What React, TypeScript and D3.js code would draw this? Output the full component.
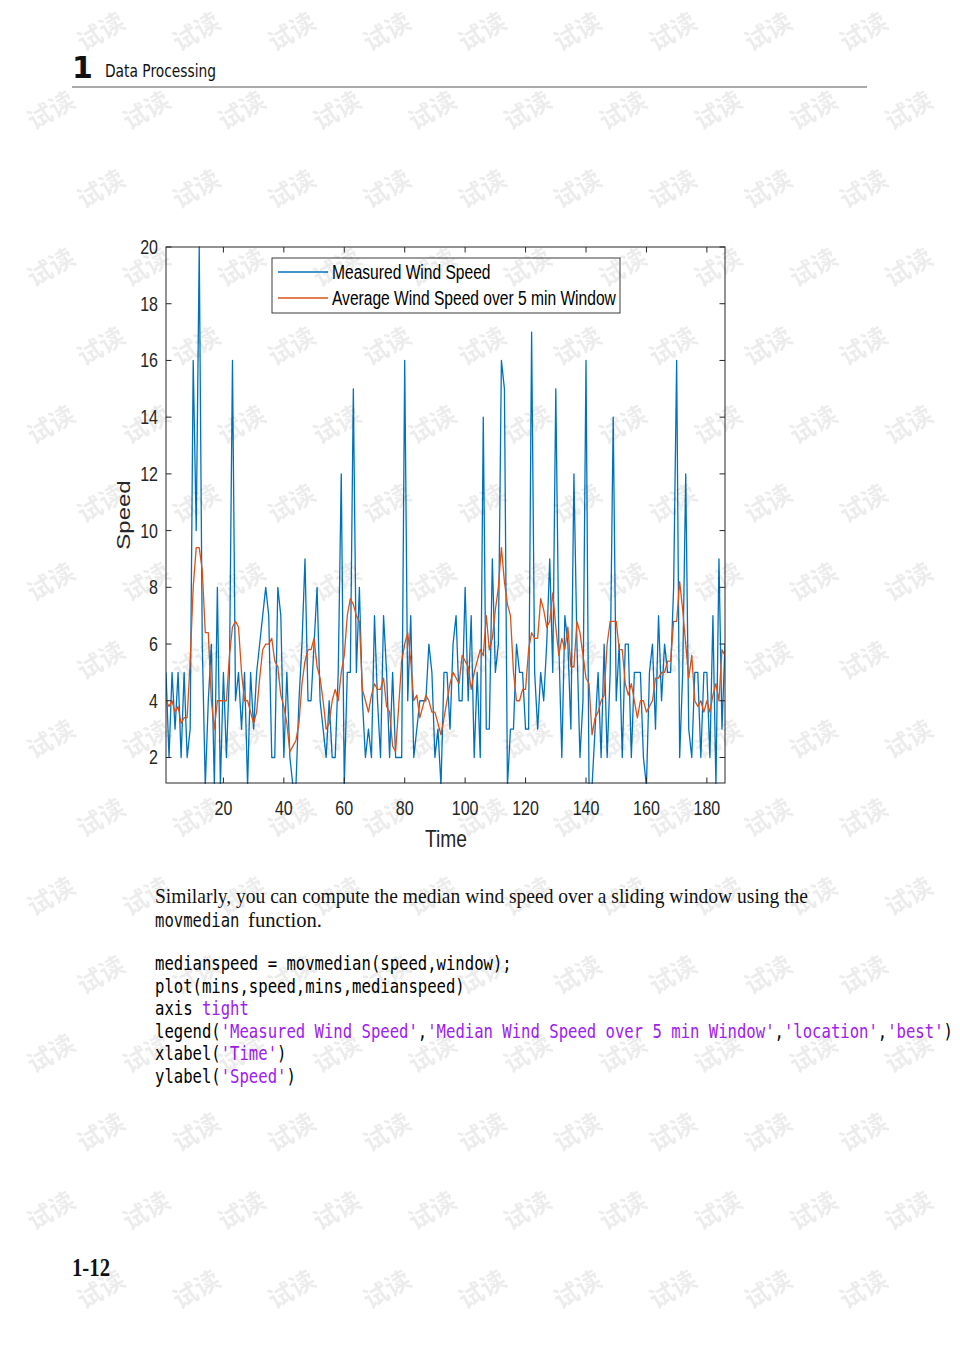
import { useMemo } from "react";
import * as d3 from "d3";

const PAGE_W = 960;
const PAGE_H = 1357;
const PLOT = { left: 166, right: 725, top: 247, bottom: 783 };

// measured wind speed, one value per minute
const SPEED = [
  5, 2, 5, 3, 5, 2, 5, 2, 3, 16, 10, 20, 6, 1, 4, 6, 1, 8, 1, 5,
  2, 5, 16, 4, 5, 3, 5, 1, 5, 3, 5, 6, 7, 8, 7, 2, 2, 8, 7, 2,
  5, 2, 1, 1, 4, 6, 9, 4, 4, 6, 8, 4, 3, 2, 4, 2, 2, 5, 12, 1,
  5, 5, 15, 5, 8, 4, 2, 3, 2, 7, 4, 2, 7, 5, 2, 5, 2, 2, 2, 16,
  4, 7, 2, 3, 4, 4, 4, 6, 5, 2, 3, 1, 5, 5, 3, 6, 7, 4, 4, 8,
  4, 7, 2, 5, 2, 14, 3, 3, 9, 5, 6, 16, 15, 1, 3, 3, 6, 5, 5, 3,
  3, 17, 5, 3, 5, 4, 6, 9, 5, 15, 6, 2, 7, 6, 3, 12, 6, 2, 4, 16,
  1, 1, 3, 5, 2, 6, 2, 5, 14, 4, 6, 2, 6, 6, 2, 5, 5, 5, 2, 1,
  5, 6, 3, 7, 4, 6, 5, 5, 8, 16, 2, 5, 12, 3, 2, 5, 5, 2, 5, 5,
  2, 7, 1, 9, 3, 6,
];

// 5 minute window average as drawn
const AVERAGE = [
  4.0, 3.8, 4.0, 3.6, 3.8, 3.2, 3.4, 3.4, 5.4, 8.0, 9.4, 9.4, 8.6, 6.4, 6.4, 4.0, 3.0, 4.0, 4.0, 4.0,
  4.0, 5.6, 6.6, 6.8, 6.6, 5.0, 4.0, 4.0, 3.6, 3.2, 3.6, 4.8, 5.8, 6.0, 6.0, 6.2, 5.4, 5.2, 4.2, 3.8,
  3.2, 2.2, 2.4, 2.6, 3.2, 4.6, 5.4, 5.8, 5.8, 6.2, 5.2, 4.8, 4.0, 3.0, 3.2, 4.0, 4.4, 4.0, 5.0, 5.6,
  7.0, 7.6, 7.4, 7.0, 6.8, 4.4, 4.0, 3.6, 4.2, 4.6, 4.4, 4.4, 4.8, 3.8, 3.6, 2.4, 2.2, 3.8, 5.4, 6.0,
  6.4, 5.4, 4.0, 4.2, 3.4, 3.8, 4.2, 4.0, 3.6, 3.6, 3.2, 2.8, 3.4, 4.0, 4.6, 5.0, 4.8, 4.6, 5.6, 5.4,
  5.2, 4.4, 5.0, 5.4, 5.8, 5.6, 7.0, 5.8, 6.2, 7.2, 8.0, 9.4, 8.2, 7.4, 7.0, 5.0, 4.0, 4.0, 4.4, 4.4,
  5.8, 6.4, 6.2, 6.2, 7.6, 7.2, 6.6, 6.8, 7.8, 6.6, 5.6, 6.2, 5.8, 6.6, 5.2, 5.2, 6.8, 6.4, 5.6, 4.8,
  4.6, 2.8, 3.4, 3.6, 4.0, 4.2, 6.0, 6.8, 6.8, 6.8, 5.8, 5.8, 4.6, 4.2, 4.6, 4.0, 3.4, 4.0, 4.0, 3.6,
  3.8, 4.0, 4.8, 4.8, 5.0, 5.0, 5.4, 5.4, 6.8, 6.8, 8.2, 7.2, 6.0, 4.8, 5.6, 4.0, 3.8, 4.0, 3.6, 4.0,
  3.6, 4.2, 4.6, 4.0, 5.8, 5.6,
];

const X_TICKS = [20, 40, 60, 80, 100, 120, 140, 160, 180];
const Y_TICKS = [2, 4, 6, 8, 10, 12, 14, 16, 18, 20];
const LEGEND_LABELS = ["Measured Wind Speed", "Average Wind Speed over 5 min Window"];
const SERIES_COLORS = ["#0072BD", "#D95319"];

const CODE_LINES: [string, string][][] = [
  [["medianspeed = movmedian(speed,window);", "#000"]],
  [["plot(mins,speed,mins,medianspeed)", "#000"]],
  [["axis ", "#000"], ["tight", "#A020F0"]],
  [
    ["legend(", "#000"],
    ["'Measured Wind Speed'", "#A020F0"],
    [",", "#000"],
    ["'Median Wind Speed over 5 min Window'", "#A020F0"],
    [",", "#000"],
    ["'location'", "#A020F0"],
    [",", "#000"],
    ["'best'", "#A020F0"],
    [")", "#000"],
  ],
  [["xlabel(", "#000"], ["'Time'", "#A020F0"], [")", "#000"]],
  [["ylabel(", "#000"], ["'Speed'", "#A020F0"], [")", "#000"]],
];

const AXIS_FONT = "'Liberation Sans', Arial, Helvetica, sans-serif";
const AXIS_COLOR = "#262626";

function Watermarks() {
  const marks: { x: number; y: number }[] = [];
  for (let r = 0; r < 17; r++) {
    const y = 30 + r * 78.6;
    const even = r % 2 === 0;
    const x0 = even ? 100 : 50;
    const n = even ? 9 : 10;
    for (let c = 0; c < n; c++) {
      marks.push({ x: x0 + c * 95.3, y });
    }
  }
  return (
    <g opacity={0.075}>
      {marks.map((m, i) => (
        <text
          key={i}
          transform={`translate(${m.x},${m.y}) rotate(-30)`}
          textAnchor="middle"
          dominantBaseline="central"
          fontFamily="'Noto Sans CJK SC', sans-serif"
          fontSize={25}
          fontWeight={700}
          fill="#000"
        >
          试读
        </text>
      ))}
    </g>
  );
}

export default function App() {
  const mins = SPEED.map((_, i) => i + 1);

  const x = useMemo(
    () => d3.scaleLinear().domain([1, mins.length]).range([PLOT.left, PLOT.right]),
    [mins.length]
  );
  const y = useMemo(
    () => d3.scaleLinear().domain([1.1, 20]).range([PLOT.bottom, PLOT.top]),
    []
  );

  const line = d3
    .line<number>()
    .x((_, i) => x(mins[i]))
    .y((d) => y(d));

  const tickLen = 5.5;

  return (
    <svg
      width={PAGE_W}
      height={PAGE_H}
      viewBox={`0 0 ${PAGE_W} ${PAGE_H}`}
      style={{ position: "absolute", left: 0, top: 0, background: "#fff" }}
    >
      {/* page header */}
      <text x={72} y={78} fontFamily="'DejaVu Sans', sans-serif" fontWeight={700} fontSize={30} fill="#111">
        1
      </text>
      <text
        x={105}
        y={77}
        fontFamily="'DejaVu Sans', sans-serif"
        fontSize={18}
        textLength={111}
        lengthAdjust="spacingAndGlyphs"
        fill="#111"
      >
        Data Processing
      </text>
      <line x1={72} x2={867} y1={87} y2={87} stroke="#555" strokeWidth={1.2} />

      {/* plot */}
      <rect x={PLOT.left} y={PLOT.top} width={PLOT.right - PLOT.left} height={PLOT.bottom - PLOT.top} fill="#fff" />
      <defs>
        <clipPath id="plot-clip">
          <rect x={PLOT.left} y={PLOT.top - 1} width={PLOT.right - PLOT.left} height={PLOT.bottom - PLOT.top + 2} />
        </clipPath>
      </defs>
      <g clipPath="url(#plot-clip)" fill="none" strokeWidth={1.3} strokeLinejoin="round">
        <path d={line(SPEED) ?? ""} stroke={SERIES_COLORS[0]} />
        <path d={line(AVERAGE) ?? ""} stroke={SERIES_COLORS[1]} />
      </g>

      {/* axes box and ticks */}
      <g stroke={AXIS_COLOR} strokeWidth={1}>
        <rect
          x={PLOT.left}
          y={PLOT.top}
          width={PLOT.right - PLOT.left}
          height={PLOT.bottom - PLOT.top}
          fill="none"
        />
        {X_TICKS.map((t) => (
          <g key={`xt${t}`}>
            <line x1={x(t)} x2={x(t)} y1={PLOT.bottom} y2={PLOT.bottom - tickLen} />
            <line x1={x(t)} x2={x(t)} y1={PLOT.top} y2={PLOT.top + tickLen} />
          </g>
        ))}
        {Y_TICKS.map((t) => (
          <g key={`yt${t}`}>
            <line x1={PLOT.left} x2={PLOT.left + tickLen} y1={y(t)} y2={y(t)} />
            <line x1={PLOT.right} x2={PLOT.right - tickLen} y1={y(t)} y2={y(t)} />
          </g>
        ))}
      </g>

      <g fontFamily={AXIS_FONT} fill={AXIS_COLOR}>
        {X_TICKS.map((t) => (
          <text
            key={`xl${t}`}
            transform={`translate(${x(t)},${PLOT.bottom + 32}) scale(0.8,1)`}
            textAnchor="middle"
            fontSize={20}
          >
            {t}
          </text>
        ))}
        {Y_TICKS.map((t) => (
          <text
            key={`yl${t}`}
            transform={`translate(${PLOT.left - 8},${y(t) + 7}) scale(0.8,1)`}
            textAnchor="end"
            fontSize={20}
          >
            {t}
          </text>
        ))}
        <text transform={`translate(446,847) scale(0.8,1)`} textAnchor="middle" fontSize={24}>
          Time
        </text>
        <text transform={`translate(130,515) rotate(-90) scale(1,0.8)`} textAnchor="middle" fontSize={24}>
          Speed
        </text>
      </g>

      {/* legend */}
      <g>
        <rect x={272} y={258} width={348} height={55} fill="#fff" stroke={AXIS_COLOR} strokeWidth={0.9} />
        {LEGEND_LABELS.map((label, i) => (
          <g key={label}>
            <line x1={278} x2={328} y1={272 + i * 26} y2={272 + i * 26} stroke={SERIES_COLORS[i]} strokeWidth={1.3} />
            <text
              transform={`translate(332,${279 + i * 26}) scale(0.8,1)`}
              fontFamily={AXIS_FONT}
              fontSize={19.5}
              fill="#000"
            >
              {label}
            </text>
          </g>
        ))}
      </g>

      {/* body text */}
      <text
        x={155}
        y={903}
        fontFamily="'Liberation Serif', 'Times New Roman', serif"
        fontSize={21}
        textLength={653}
        lengthAdjust="spacingAndGlyphs"
        fill="#111"
      >
        Similarly, you can compute the median wind speed over a sliding window using the
      </text>
      <g transform="translate(155,927) scale(1,1.22)">
        <text x={0} y={0} fontFamily="'DejaVu Sans Mono', monospace" fontSize={15.6} fill="#111">
          movmedian
        </text>
      </g>
      <text
        x={248}
        y={927}
        fontFamily="'Liberation Serif', 'Times New Roman', serif"
        fontSize={21}
        textLength={74}
        lengthAdjust="spacingAndGlyphs"
        fill="#111"
      >
        function.
      </text>

      {CODE_LINES.map((parts, li) => (
        <g key={li} transform={`translate(155,${970 + li * 22.6}) scale(1,1.22)`}>
          <text x={0} y={0} fontFamily="'DejaVu Sans Mono', monospace" fontSize={15.6} xmlSpace="preserve">
            {parts.map(([txt, col], pi) => (
              <tspan key={pi} fill={col}>
                {txt}
              </tspan>
            ))}
          </text>
        </g>
      ))}

      {/* footer */}
      <text
        x={72}
        y={1276}
        fontFamily="'Liberation Serif', 'Times New Roman', serif"
        fontWeight={700}
        fontSize={25}
        textLength={38}
        lengthAdjust="spacingAndGlyphs"
        fill="#111"
      >
        1-12
      </text>

      <Watermarks />
    </svg>
  );
}
